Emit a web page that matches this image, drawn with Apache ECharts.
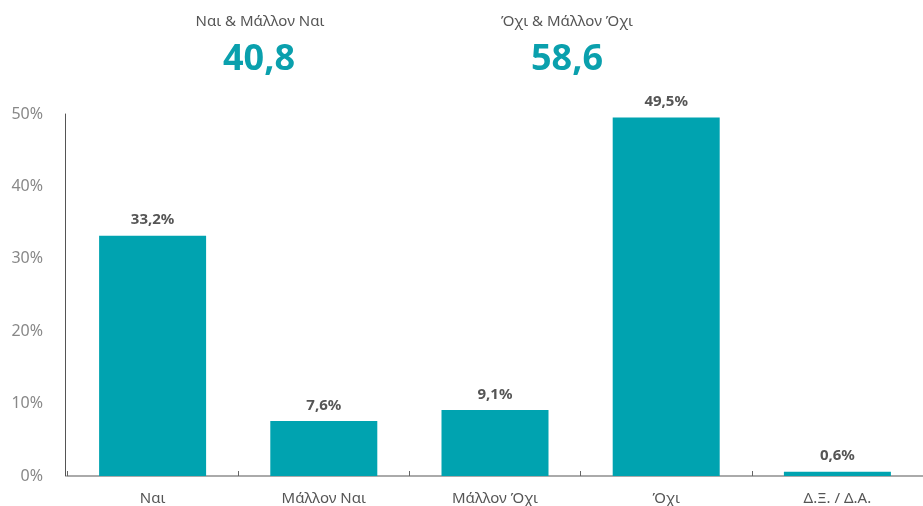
<!DOCTYPE html>
<html><head><meta charset="utf-8">
<script src="https://cdn.jsdelivr.net/npm/echarts@6/dist/echarts.min.js"></script>
<style>html,body{margin:0;padding:0;background:#fff}#c{width:923px;height:506px}</style>
</head><body><div id="c"></div>
<script>
const categories = ['Ναι', 'Μάλλον Ναι', 'Μάλλον Όχι', 'Όχι', 'Δ.Ξ. / Δ.Α.'];
const values = [33.2, 7.6, 9.1, 49.5, 0.6];
const summaryLabels = ['Ναι & Μάλλον Ναι', 'Όχι & Μάλλον Όχι'];
const summaryValues = ['40,8', '58,6'];

const FONT = 'Noto Sans';
const chart = echarts.init(document.getElementById('c'));
chart.setOption({
  animation: false,
  grid: { left: 67, right: -1, top: 114, bottom: 30 },
  graphic: [
    { type: 'text', style: { text: summaryLabels[0], fill: '#555', font: '15px "Noto Sans"', textAlign: 'center', textVerticalAlign: 'middle' }, x: 260, y: 22 },
    { type: 'text', style: { text: summaryValues[0], fill: '#0aa0ad', font: 'bold 36px "Noto Sans"', textAlign: 'center', textVerticalAlign: 'middle' }, x: 259, y: 60 },
    { type: 'text', style: { text: summaryLabels[1], fill: '#555', font: '15px "Noto Sans"', textAlign: 'center', textVerticalAlign: 'middle' }, x: 567, y: 22 },
    { type: 'text', style: { text: summaryValues[1], fill: '#0aa0ad', font: 'bold 36px "Noto Sans"', textAlign: 'center', textVerticalAlign: 'middle' }, x: 567, y: 60 }
  ],
  xAxis: {
    type: 'category', data: categories,
    axisLine: { lineStyle: { color: '#aaa', width: 2 } },
    axisTick: { show: true, inside: true, length: 5, lineStyle: { color: '#666' } },
    axisLabel: { color: '#555', fontFamily: FONT, fontSize: 15, margin: 15 }
  },
  yAxis: {
    type: 'value', min: 0, max: 50, interval: 10, offset: 2,
    axisLine: { show: true, lineStyle: { color: '#555', width: 1 } },
    axisTick: { show: false },
    splitLine: { show: false },
    axisLabel: { color: '#888', fontFamily: FONT, fontSize: 16, margin: 22, formatter: '{value}%', padding: [4, 0, 0, 0] }
  },
  series: [{
    type: 'bar', data: values, barWidth: 107,
    itemStyle: { color: '#00a3b0' },
    label: { show: true, position: 'top', distance: 8, color: '#555', fontFamily: FONT, fontWeight: 'bold', fontSize: 15,
      formatter: p => p.value.toFixed(1).replace('.', ',') + '%' }
  }]
});
</script></body></html>
